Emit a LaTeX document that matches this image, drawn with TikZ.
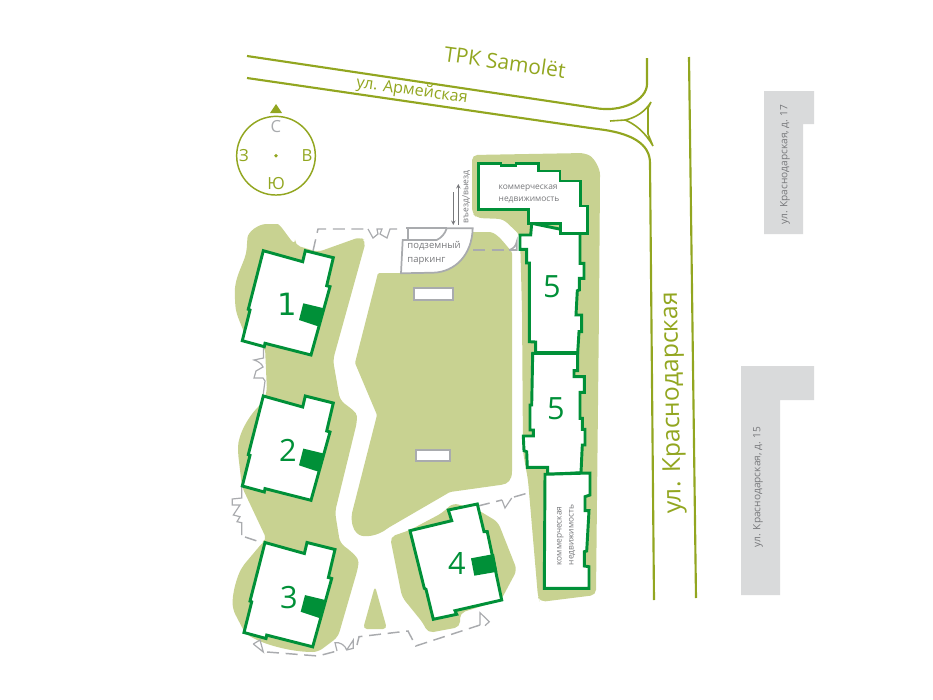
\documentclass[tikz,border=0pt]{standalone}
\usepackage{fontspec}
\setmainfont{Open Sans}
\newfontfamily\digitfont{DejaVu Sans}
\usetikzlibrary{arrows,positioning}
\definecolor{lawn}{HTML}{C8D291}
\definecolor{house}{HTML}{009038}
\definecolor{road}{HTML}{92A620}
\definecolor{fence}{HTML}{A9ABAE}
\definecolor{block}{HTML}{D9DADB}
\definecolor{caption}{HTML}{77787B}
\tikzstyle{grass}=[fill=lawn,draw=none,rounded corners=4pt]
\tikzstyle{roadline}=[draw=road,line width=1.6pt]
\tikzstyle{housewall}=[draw=house,fill=white,line width=2.2pt,line join=miter]
\tikzstyle{gate}=[draw=fence,line width=0.9pt]
\tikzstyle{fenceline}=[draw=fence,line width=1.1pt,dash pattern=on 9pt off 5pt]
\tikzstyle{parkline}=[draw=fence,line width=1.3pt]
\tikzstyle{num}=[text=house,font=\fontsize{23}{23}\selectfont,inner sep=0pt]
\tikzstyle{side}=[text=road,font=\fontsize{12.5}{13}\selectfont,inner sep=0pt]
\tikzstyle{small}=[text=caption,font=\fontsize{6.3}{9}\selectfont,align=left,inner sep=0pt]
\begin{document}
\begin{tikzpicture}[x=0.75pt,y=-0.75pt]
\useasboundingbox (0,0) rectangle (933,700);
% lawns
\fill[grass] (295,245) -- (318,252) -- (360,237) -- (366,241) -- (333,360) -- (340,400) .. controls (350,408) and (357,412) .. (357,422) -- (335,512) -- (340,543) .. controls (352,552) and (359,558) .. (358,568) -- (338,637) -- (318,652) .. controls (290,652) and (262,644) .. (245,633) -- (233,610) .. controls (232,595) and (236,580) .. (242,567) -- (263,542) -- (267,540) -- (242,487) -- (238,453) .. controls (238,435) and (248,417) .. (262,403) -- (267,392) -- (265,347) -- (246,340) .. controls (242,325) and (236,316) .. (235,300) .. controls (234,275) and (246,262) .. (247,243) .. controls (248,232) and (258,224) .. (272,224) .. controls (280,224) and (286,234) .. (295,245) -- cycle;
\fill[grass,rounded corners=1pt] (378,273) -- (401,273) -- (470,232) -- (490,232) .. controls (498,234) and (505,244) .. (512,252) -- (512,470) .. controls (512,480) and (508,484) .. (500,485) -- (450,492) -- (388,528) .. controls (378,536) and (364,538) .. (358,534) .. controls (353,530) and (351,522) .. (352,513) -- (377,415) -- (355,363) -- cycle;
\fill[grass] (472,155) -- (585,153) .. controls (594,158) and (600,168) .. (600,180) -- (599,310) -- (596,595) -- (540,602) -- (538,597) -- (528,480) -- (523,452) -- (522,310) -- (520,235) -- (503,219) -- (477,218) -- (472,213) -- cycle;
\fill[grass] (453,503) -- (442,513) -- (410,530) -- (390,537) -- (402,597) -- (423,623) -- (428,633) -- (460,627) -- (460,613) -- (501,600) -- (517,570) -- (498,522) -- (478,510) -- cycle;
\fill[grass,rounded corners=3pt] (375,586) -- (363,629) -- (387,629) -- cycle;
% neighbours
\fill[block] (764,91) -- (814,91) -- (814,124) -- (803,124) -- (803,234) -- (764,234) -- cycle;
\fill[block] (741,366) -- (814,366) -- (814,400) -- (780,400) -- (780,595) -- (741,595) -- cycle;
% roads
\draw[roadline] (247,56) -- (595,108) .. controls (622,113) and (647,100) .. (647,84) -- (647,58);
\draw[roadline] (247,78) -- (590,128) -- (605,130) .. controls (630,134) and (650,143) .. (650,163) -- (654,600);
\draw[roadline] (689,57) -- (696,598);
\draw[draw=road,line width=1.2pt,line join=miter] (610,121) -- (625,120) .. controls (635,118) and (645,112) .. (651,102) -- (648,108) -- (648,134) -- (653,146) .. controls (645,132) and (635,124) .. (625,120);
% fence
\draw[fenceline] (313,251) -- (318,229) -- (368,229);
\draw[gate] (368,229) -- (373,238) -- (378,234) -- (377,229) -- (382,229) -- (380,234) -- (387,238) -- (390,229) -- (397,229);
\draw[gate] (263.5,347) -- (263.5,358) -- (254,360) .. controls (258,361) and (262,364) .. (263,367) -- (256,371) -- (254,378) -- (263,378) -- (265,381) -- (263,396);
\draw[gate] (241.7,487) -- (241.7,498) -- (232.3,499) -- (232.3,505) -- (240,505) -- (233.3,515) -- (240,516.7) -- (237,521.7) -- (241.7,522.7) -- (241.7,535);
\draw[fenceline] (245,537) -- (260,542);
\draw[gate] (253.3,644) -- (260,640) -- (263.3,652) -- (253.3,644);
\draw[fenceline] (267,652) -- (318,656) -- (337,651);
\draw[gate] (337,651) -- (335,642.7) .. controls (340,642) and (345,645) .. (346.7,650) -- (353.3,648.3) -- (353.3,640) -- (346.7,650);
\draw[fenceline] (357,645) -- (359,636.7) -- (408,631) -- (415.7,646) -- (480,625);
\draw[gate] (480,625) -- (480,612.7) -- (489.3,621.7) -- (485,625.7);
\draw[fenceline] (478,506) -- (502,500);
\draw[gate] (502,500) -- (505,508) -- (511.7,498);
\draw[fenceline] (514,497) -- (528,493);
\draw[fenceline] (473,250) -- (509,250);
\draw[gate,line width=1.2pt] (509,250) .. controls (513,249) and (516,246) .. (516.7,241.7) -- (516.7,250) -- (509,250);
% houses
\foreach \nr/\dx/\dy in {1/0/0,2/0/145.3,3/1.7/291.8} {
\begin{scope}[shift={(\dx,\dy)}]
\draw[housewall] (263.3,250.7) -- (302.7,261.7) -- (305.3,250.7) -- (333.3,257.7) -- (326.7,285.7) -- (330,286.7) -- (311,355) -- (265,343.3) -- (264.3,346.7) -- (242.3,340.7) -- (250,310) -- (248.3,309.3) -- cycle;
\fill[house] (303.3,303.3) -- (324,308.3) -- (319.3,326.7) -- (299,320) -- cycle;
\end{scope}
}
\draw[housewall] (410,530.7) -- (451.7,520.7) -- (448.3,510) -- (477.3,504) -- (484,531.7) -- (487.3,531.7) -- (501.7,600) -- (455,610.7) -- (456.7,614.3) -- (433.3,619.3) -- (426,589.3) -- (424.3,588.3) -- cycle;
\fill[house] (471,558.3) -- (494,554) -- (497.3,571.7) -- (474.3,575.7) -- cycle;
\draw[housewall] (531.7,223.3) -- (530.7,235) -- (520,235) -- (520,249.3) -- (526.7,249.3) -- (526.7,263) -- (529.3,263) -- (529.3,341.7) -- (535.7,342) -- (535.7,352.7) -- (577.7,352.7) -- (579,331.7) -- (581.7,331.7) -- (581.7,315) -- (576,315) -- (577.3,290.7) -- (579.3,290) -- (579.3,278.3) -- (584,278.3) -- (584,263.3) -- (580,263.3) -- (580,233.3) -- cycle;
\draw[housewall] (532.7,353.3) -- (531.7,405) -- (530,405) -- (530,430) -- (533.3,430) -- (533.3,436) -- (523.3,436) -- (524,450.7) -- (526.7,451.7) -- (527.3,467.3) -- (547.7,467.3) -- (547.7,474.3) -- (581,472.7) -- (582.3,445) -- (585,445) -- (585,429.3) -- (582.3,429.3) -- (582.3,418.3) -- (580,418.3) -- (580,392.3) -- (584.3,392.3) -- (584.3,376.7) -- (574,376.7) -- (574,370.7) -- (577.7,370.7) -- (577.7,353.3) -- cycle;
\draw[housewall] (478.3,163.3) -- (501,163.3) -- (501,165.7) -- (516,165.7) -- (516,163.3) -- (538.3,163.3) -- (538.3,171) -- (560,171) -- (560,181) -- (580.7,181) -- (580.7,206) -- (587.3,206) -- (587.3,233.3) -- (560.7,233.3) -- (560.7,223.3) -- (528.3,223.3) -- (528.3,209.3) -- (478.3,209.3) -- cycle;
\draw[housewall] (545,474.3) -- (590,473) -- (590,495) -- (585,496.7) -- (585,510.7) -- (589,510.7) -- (586.7,551) -- (584.3,551.7) -- (584.3,566) -- (589,566.7) -- (589,588.3) -- (544.3,588.3) -- cycle;
% parking
\draw[parkline,fill=white] (446.7,228.3) -- (472.7,228.3) .. controls (472,255) and (455,272) .. (433.3,272.7) -- (401,273.3) -- (402.7,240) -- (436.7,240) .. controls (441,238) and (445,234) .. (446.7,228.3) -- cycle;
\draw[parkline] (406,228.3) -- (446.7,228.3) (407.7,228.3) -- (407.7,240);
\draw[parkline,fill=white] (414,287.7) rectangle (453.3,300);
\draw[parkline,fill=white] (416,450) rectangle (450,461);
\coordinate (inTop) at (453.3,192);
\coordinate (inEnd) at (453.3,225);
\coordinate (outStart) at (458.3,225);
\coordinate (outEnd) at (458.3,184);
\draw[->,>=stealth,draw=caption,line width=0.5pt] (inTop) -- (inEnd);
\draw[->,>=stealth,draw=caption,line width=0.5pt] (outStart) -- (outEnd);
% compass
\node[draw=road,line width=1.1pt,circle,minimum size=59pt,inner sep=0pt] (dial) at (276,155.7) {};
\fill[road] (276,104) -- (282,113) -- (270,113) -- cycle;
\fill[road] (dial.center) circle (1.4pt);
\node[side,text=fence] (north) at (276,127) {С};
\node[side] (west) at (244,156) {З};
\node[side] (east) at (307,156) {В};
\node[side] (south) at (276,184) {Ю};
% labels
\node[text=road,font=\fontsize{15.7}{16}\selectfont,rotate=-8,inner sep=0pt] (mall) at (505,62) {ТРК Samolët};
\node[text=road,font=\fontsize{12.1}{13}\selectfont,rotate=-8,inner sep=0pt] (army) at (412,91) {ул. Армейская};
\node[text=road,font=\fontsize{18.5}{19}\selectfont,rotate=91,inner sep=0pt] (kras) at (673,403) {ул. Краснодарская};
\node[small,font=\fontsize{7.6}{9}\selectfont,rotate=90] (d17) at (785,164.5) {ул. Краснодарская, д. 17};
\node[small,font=\fontsize{7.6}{9}\selectfont,rotate=90] (d15) at (758,487) {ул. Краснодарская, д. 15};
\node[small] (shopA) at (529,194) {коммерческая\\недвижимость};
\node[small,rotate=90] (shopB) at (566,535) {коммерческая\\недвижимость};
\node[small,font=\fontsize{7.1}{10}\selectfont] (park) at (434,253) {подземный\\паркинг};
\node[small,font=\fontsize{6.4}{6}\selectfont,rotate=90] (way) at (466,197) {въезд/выезд};
\node[num] (h1) at (287,304) {\digitfont 1};
\node[num] (h2) at (288,450) {2};
\node[num] (h3) at (289,598) {3};
\node[num] (h4) at (457,563) {4};
\node[num] (h5) at (552,287) {5};
\node[num] (h6) at (556,409) {5};
\end{tikzpicture}
\end{document}
